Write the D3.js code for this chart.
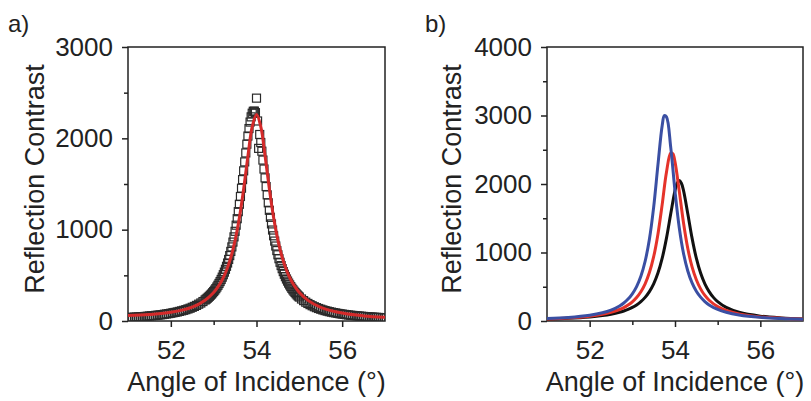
<!DOCTYPE html>
<html><head><meta charset="utf-8">
<script src="https://cdn.jsdelivr.net/npm/d3@7"></script>
<style>body{margin:0;background:#fff} svg{display:block} text{font-family:"Liberation Sans",Arial,sans-serif;fill:#222}</style>
</head><body><svg id="c" width="811" height="401"></svg>
<script>
// ---- Panel a: measured points (open squares) ----
const sqX = [51.00,51.05,51.10,51.15,51.20,51.25,51.30,51.35,51.40,51.45,51.50,51.55,51.60,51.65,51.70,51.75,51.80,51.85,51.90,51.95,52.00,52.05,52.10,52.15,52.20,52.25,52.30,52.35,52.40,52.45,52.50,52.55,52.60,52.65,52.70,52.75,
52.800,52.825,52.850,52.875,52.900,52.925,52.950,52.975,53.000,53.025,53.050,53.075,53.100,53.125,53.150,53.175,53.200,53.225,53.250,53.275,53.300,53.325,53.350,53.375,53.400,53.425,53.450,53.475,53.500,53.525,53.550,53.575,53.600,53.625,53.650,53.675,53.700,53.725,53.750,53.775,53.800,53.825,53.850,53.875,53.900,53.925,53.950,53.975,54.000,54.025,54.050,54.075,54.100,54.125,54.150,54.175,54.200,54.225,54.250,54.275,54.300,54.325,54.350,54.375,54.400,54.425,54.450,54.475,54.500,54.525,54.550,54.575,54.600,54.625,54.650,54.675,54.700,54.725,54.750,54.775,54.800,54.825,54.850,54.875,54.900,54.925,54.950,54.975,55.000,
55.05,55.10,55.15,55.20,55.25,55.30,55.35,55.40,55.45,55.50,55.55,55.60,55.65,55.70,55.75,55.80,55.85,55.90,55.95,56.00,56.05,56.10,56.15,56.20,56.25,56.30,56.35,56.40,56.45,56.50,56.55,56.60,56.65,56.70,56.75,56.80,56.85,56.90,56.95,57.00];
const sqY = [38,39,40,42,43,45,47,48,50,52,55,57,59,62,64,67,70,74,77,81,85,90,94,99,105,111,117,124,132,140,150,160,171,184,197,213,
230,239,249,260,271,283,295,309,323,338,354,372,391,411,432,455,480,507,535,566,599,635,674,716,762,811,864,921,982,1049,1120,1197,1278,1363,1454,1548,1644,1742,1840,1936,2025,2107,2178,2235,2275,2296,2298,2281,2440,2190,1890,2042,1954,1859,1762,1664,1567,1472,1381,1294,1212,1135,1063,996,933,875,821,771,725,682,643,607,573,541,512,485,460,437,415,395,376,358,341,326,312,298,285,273,262,
241,223,206,192,179,167,156,146,137,129,121,114,108,102,97,92,88,83,79,76,72,69,66,63,61,58,56,54,52,50,48,46,44,43,41,40,39,37,36,35];
// ---- Panel a: fit (red line) ----
const fitAX = [51,51.5,52,52.5,52.8,53.0,53.1,53.2,53.3,53.4,53.5,53.6,53.7,53.8,53.9,54.0,54.1,54.2,54.3,54.4,54.5,54.6,54.7,54.8,54.9,55.0,55.2,55.5,56,56.5,57];
const fitAY = [60,72,95,152,228,312,373,452,556,695,882,1130,1446,1808,2127,2260,2127,1808,1446,1130,882,695,556,452,373,312,226,150,87,56,40];
// ---- Panel b: three curves ----
const blueX = [51,51.5,52,52.3,52.5,52.7,52.8,52.9,53.0,53.1,53.2,53.3,53.4,53.5,53.6,53.7,53.75,53.8,53.9,54.0,54.1,54.2,54.3,54.4,54.5,54.6,54.7,54.8,55.0,55.2,55.5,56,56.5,57];
const blueY = [35,52,84,120,159,220,263,320,397,503,653,872,1194,1663,2279,2855,2997,2980,2534,1895,1362,986,730,556,435,348,284,235,169,127,88,53,36,26];
const redBX = [51,51.5,52,52.3,52.5,52.7,52.8,52.9,53.0,53.1,53.2,53.3,53.4,53.5,53.6,53.7,53.8,53.9,53.95,54.0,54.1,54.2,54.3,54.4,54.5,54.6,54.7,54.8,55.0,55.2,55.5,56,56.5,57];
const redBY = [31,45,71,98,126,168,196,233,280,343,427,543,707,939,1268,1703,2173,2451,2440,2323,1896,1430,1058,789,602,469,373,303,210,153,103,60,40,28];
const blackBX = [51,51.5,52,52.3,52.5,52.7,52.8,52.9,53.0,53.1,53.2,53.3,53.4,53.5,53.6,53.7,53.8,53.9,54.0,54.05,54.1,54.15,54.2,54.3,54.4,54.5,54.6,54.7,54.8,54.9,55.0,55.2,55.5,56,56.5,57];
const blackBY = [27,39,59,79,99,127,146,169,198,235,283,345,429,542,700,917,1210,1566,1903,2011,2050,2011,1903,1566,1210,917,700,542,429,345,283,198,127,71,45,31];
// ---- ticks ----
const xTicks = [52,54,56];
const xMinor = [53,55];
const yTicksA = [0,1000,2000,3000];
const yMinorA = [500,1500,2500];
const yTicksB = [0,1000,2000,3000,4000];
const yMinorB = [500,1500,2500,3500];
const xTitle = "Angle of Incidence (°)";
const yTitle = "Reflection Contrast";

const svg = d3.select("#c");
const plotTop = 47, plotBottom = 321;

function panel(id, left, right, yMax, yTicks, yMinor, label, labelX, yTitleX) {
  const x = d3.scaleLinear().domain([51,57]).range([left,right]);
  const y = d3.scaleLinear().domain([0,yMax]).range([plotBottom,plotTop]);
  const g = svg.append("g");
  g.append("clipPath").attr("id","clip"+id).append("rect")
    .attr("x",left).attr("y",plotTop).attr("width",right-left).attr("height",plotBottom-plotTop);
  g.append("g").attr("transform",`translate(0,${plotBottom})`)
    .call(d3.axisBottom(x).tickValues(xTicks).tickSize(6).tickSizeOuter(0).tickPadding(14).tickFormat(d3.format("d")));
  g.append("g").attr("transform",`translate(0,${plotBottom})`)
    .call(d3.axisBottom(x).tickValues(xMinor).tickSize(4).tickSizeOuter(0).tickFormat(""));
  g.append("g").attr("transform",`translate(${left},0)`)
    .call(d3.axisLeft(y).tickValues(yTicks).tickSize(6).tickSizeOuter(0).tickPadding(9).tickFormat(d3.format("d")));
  g.append("g").attr("transform",`translate(${left},0)`)
    .call(d3.axisLeft(y).tickValues(yMinor).tickSize(4).tickSizeOuter(0).tickFormat(""));
  g.selectAll(".domain").remove();
  g.selectAll(".tick line").attr("stroke","#222").attr("stroke-width",1.5);
  g.selectAll(".tick text").attr("font-size",26).attr("fill","#222")
    .attr("font-family","'Liberation Sans',Arial,sans-serif");
  g.append("rect").attr("x",left).attr("y",plotTop).attr("width",right-left).attr("height",plotBottom-plotTop)
    .attr("fill","none").attr("stroke","#222").attr("stroke-width",1.5);
  g.append("text").attr("x",(left+right)/2).attr("y",391).attr("text-anchor","middle")
    .attr("font-size",27).text(xTitle);
  g.append("text").attr("transform",`translate(${yTitleX},${179}) rotate(-90)`).attr("text-anchor","middle")
    .attr("font-size",27).text(yTitle);
  g.append("text").attr("x",labelX).attr("y",32).attr("font-size",24).text(label);
  const plot = g.append("g").attr("clip-path",`url(#clip${id})`);
  return {x,y,plot};
}

// Panel a
const A = panel("a",128,385,3000,yTicksA,yMinorA,"a)",8,44);
A.plot.selectAll("rect.sq").data(sqX.map((d,i)=>[d,sqY[i]])).join("rect")
  .attr("class","sq")
  .attr("x",d=>A.x(d[0])-4).attr("y",d=>A.y(d[1])-4)
  .attr("width",8).attr("height",8)
  .attr("fill","none").attr("stroke","#2a2a2a").attr("stroke-width",1.2);
const lineA = d3.line().x(d=>A.x(d[0])).y(d=>A.y(d[1])).curve(d3.curveCatmullRom);
A.plot.append("path").datum(fitAX.map((d,i)=>[d,fitAY[i]]))
  .attr("d",lineA).attr("fill","none").attr("stroke","#d42a2a").attr("stroke-width",3);

// Panel b
const B = panel("b",547,803,4000,yTicksB,yMinorB,"b)",425,461);
const lineB = d3.line().x(d=>B.x(d[0])).y(d=>B.y(d[1])).curve(d3.curveCatmullRom);
[[blackBX,blackBY,"#111"],[redBX,redBY,"#e5332a"],[blueX,blueY,"#3a4fa3"]].forEach(([xs,ys,c])=>{
  B.plot.append("path").datum(xs.map((d,i)=>[d,ys[i]]))
    .attr("d",lineB).attr("fill","none").attr("stroke",c).attr("stroke-width",3);
});
</script></body></html>
